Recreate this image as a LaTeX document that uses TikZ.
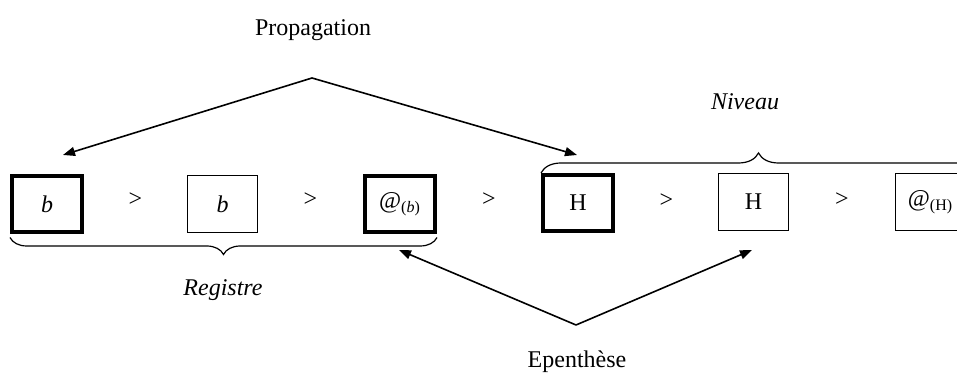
\documentclass[tikz,border=0pt]{standalone}
\usepackage{fontspec}
\setmainfont{Liberation Serif}
\usepackage{tikz}
\usetikzlibrary{arrows.meta,positioning,calc,decorations.pathreplacing}
\definecolor{segline}{RGB}{0,0,0}
\tikzset{
  segbox/.style={
    rectangle, draw=segline, line width=0.5pt,
    minimum width=35pt, minimum height=28.5pt,
    inner sep=0pt,
    font=\fontsize{12}{14}\selectfont
  },
  segboxheavy/.style={segbox, line width=2pt, minimum height=28pt},
  segorder/.style={font=\fontsize{12}{14}\selectfont, inner sep=0pt},
  seglabel/.style={font=\fontsize{12}{14}\selectfont, inner sep=1pt},
  segarrow/.style={-{Triangle[length=6pt,width=4.5pt]}, line width=0.8pt, draw=segline},
  segbrace/.style={decorate, line width=0.6pt, draw=segline}
}

\begin{document}
\begin{tikzpicture}[x=0.5pt, y=-0.5pt]
\useasboundingbox (0,0) rectangle (957,378);

% ---- segments (b1 placed first, the rest follow it) ----
\node[segboxheavy] (b1) at (47,204.5) {\itshape b};
\node[segbox, right=51.5pt of b1] (b2) {\itshape b};
\node[segboxheavy, right=52.5pt of b2] (b3) {@\textsubscript{(\textit{b})}};
\node[segboxheavy, right=52pt of b3, yshift=0.75pt] (h1) {H};
\node[segbox, right=51.5pt of h1, yshift=0.5pt] (h2) {H};
\node[segbox, right=53pt of h2] (h3) {@\textsubscript{(H)}};

% ---- order signs ----
\node[segorder] (gt1) at ($(b1.east)!0.5!(b2.west)+(0,2.5pt)$) {>};
\node[segorder] (gt2) at ($(b2.east)!0.5!(b3.west)+(0,2.5pt)$) {>};
\node[segorder] (gt3) at ($(b3.east)!0.5!(h1.west)+(0,2pt)$) {>};
\node[segorder] (gt4) at ($(h1.east)!0.5!(h2.west)+(0,1pt)$) {>};
\node[segorder] (gt5) at ($(h2.east)!0.5!(h3.west)+(0,1pt)$) {>};

% ---- braces ----
\draw[segbrace, decoration={brace, amplitude=8.5pt}]
  ($(b3.south east)+(0,-1.5pt)$) -- ($(b1.south west)+(0,-1.5pt)$);
\draw[segbrace, decoration={brace, amplitude=10pt}]
  (h1.north west) -- ($(h3.north east)+(5pt,0)$);

% ---- labels ----
\node[seglabel] (prop) at (313,30) {Propagation};
\node[seglabel, font=\fontsize{12}{14}\selectfont\itshape] (niv) at (745,102) {Niveau};
\node[seglabel, font=\fontsize{12}{14}\selectfont\itshape] (reg) at (223,290) {Registre};
\node[seglabel] (epen) at (577,362) {Epenth\`ese};

% ---- arrows ----
\coordinate (propTop) at (312,78);
\coordinate (propL) at (63,155);
\coordinate (propR) at (577,155);
\draw[segarrow] (propTop) -- (propL);
\draw[segarrow] (propTop) -- (propR);

\coordinate (epenBot) at (576,325);
\coordinate (epenL) at (399,250);
\coordinate (epenR) at (752,250);
\draw[segarrow] (epenBot) -- (epenL);
\draw[segarrow] (epenBot) -- (epenR);

\end{tikzpicture}
\end{document}
